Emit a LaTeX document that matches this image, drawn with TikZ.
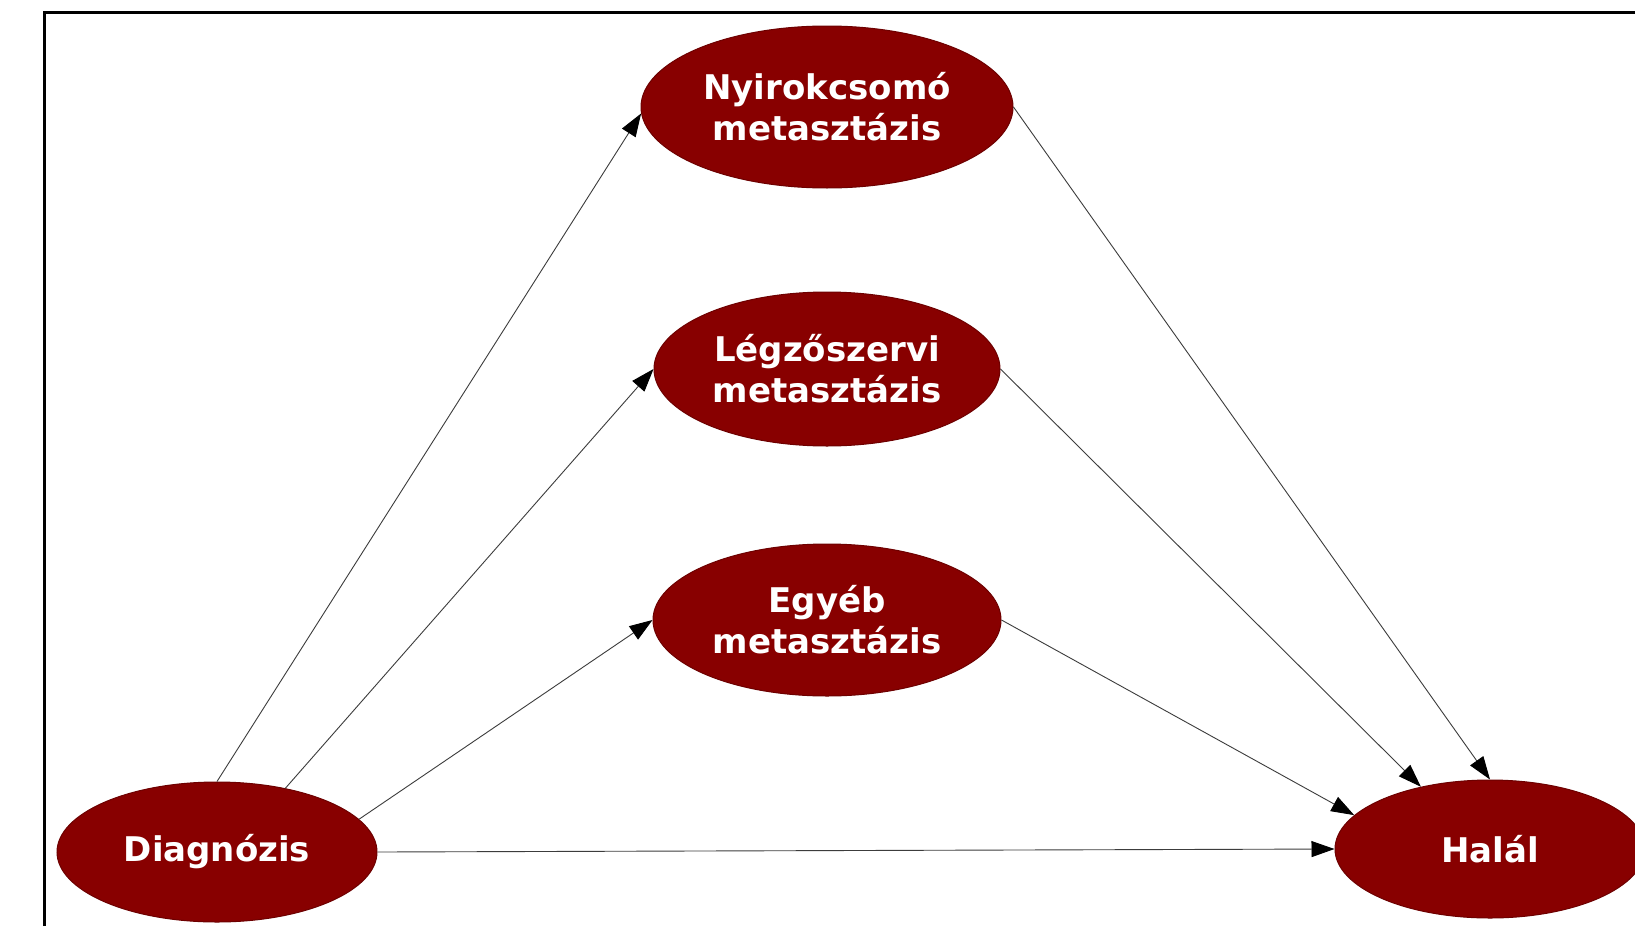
\documentclass[tikz,border=0pt]{standalone}
\usepackage{fontspec}
\newfontfamily\labfont{DejaVu Sans}[BoldFont={DejaVu Sans Bold}]
\usetikzlibrary{shapes.geometric,arrows.meta}
\definecolor{ellred}{RGB}{136,0,0}
\definecolor{linegray}{RGB}{60,60,60}
\begin{document}
\begin{tikzpicture}[x=1pt,y=-1pt,
  state/.style={ellipse,fill=ellred,draw=ellred!80!black,line width=1pt,inner sep=0pt,
    text=white,align=center,font=\labfont\bfseries\fontsize{34}{41}\selectfont},
  conn/.style={draw=linegray,line width=0.9pt,-{Triangle[length=23pt,width=16pt,color=black,fill=black]}}]
\useasboundingbox (0,0) rectangle (1635,926);
\fill[white] (0,0) rectangle (1635,926);
\draw[line width=3pt] (44,926) -- (44,12) -- (1640,12);
\node[state,minimum width=372pt,minimum height=162pt] (nyi) at (827,107) {Nyirokcsomó\\metasztázis};
\node[state,minimum width=346pt,minimum height=154pt] (leg) at (827,369) {Légzőszervi\\metasztázis};
\node[state,minimum width=348pt,minimum height=152pt] (egy) at (827,620) {Egyéb\\metasztázis};
\node[state,minimum width=320pt,minimum height=140pt] (dia) at (217,852) {Diagnózis};
\node[state,minimum width=310pt,minimum height=138pt] (hal) at (1490,849) {Halál};
\draw[conn] (dia.north) -- (nyi.182);
\draw[conn] (dia.43) -- (leg.west);
\draw[conn] (dia.13) -- (egy.west);
\draw[conn] (dia.east) -- (hal.west);
\draw[conn] (nyi.east) -- (hal.north);
\draw[conn] (leg.east) -- (hal.138);
\draw[conn] (egy.east) -- (hal.166);
\end{tikzpicture}
\end{document}
